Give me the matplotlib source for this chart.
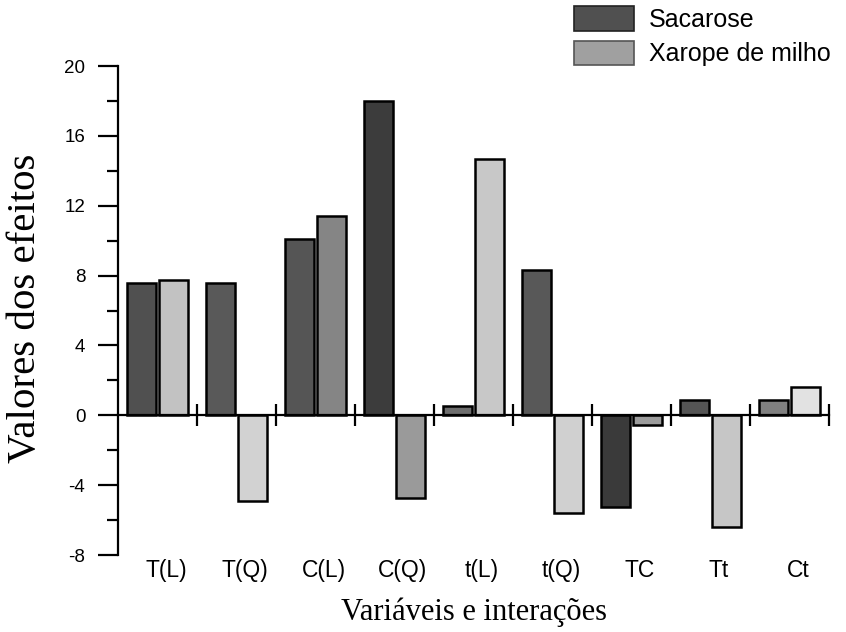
import matplotlib
matplotlib.use('Agg')
import matplotlib.pyplot as plt
import matplotlib.transforms as mtransforms
from matplotlib.patches import Patch
import numpy as np

plt.rcParams['axes.unicode_minus'] = False

# Dados
categorias = ['T(L)', 'T(Q)', 'C(L)', 'C(Q)', 't(L)', 't(Q)', 'TC', 'Tt', 'Ct']
sacarose = [7.6, 7.6, 10.1, 18.0, 0.55, 8.3, -5.25, 0.85, 0.85]
xarope = [7.75, -4.9, 11.4, -4.75, 14.7, -5.6, -0.55, -6.4, 1.6]
series = ['Sacarose', 'Xarope de milho']
yticks = [-8, -4, 0, 4, 8, 12, 16, 20]

# tons de cinza (figura escaneada, cada barra tem um tom)
cor_sac = ['#505050', '#595959', '#555555', '#3c3c3c', '#6e6e6e',
           '#585858', '#3a3a3a', '#555555', '#808080']
cor_xar = ['#c2c2c2', '#d2d2d2', '#858585', '#9a9a9a', '#c8c8c8',
           '#d0d0d0', '#9c9c9c', '#c6c6c6', '#e2e2e2']

sans = 'Liberation Sans'
serif = 'Liberation Serif'

fig = plt.figure(figsize=(8.46, 6.32), dpi=100)
ax = fig.add_axes([118 / 846, 1 - 555 / 632, (829 - 118) / 846, (555 - 66) / 632])

x = np.arange(len(categorias))
largura = 0.37
ax.bar(x - 0.2, sacarose, largura, color=cor_sac, edgecolor='black', linewidth=1.8, zorder=3)
ax.bar(x + 0.2, xarope, largura, color=cor_xar, edgecolor='black', linewidth=1.8, zorder=3)

ax.set_xlim(-0.5, len(categorias) - 0.5)
ax.set_ylim(-8, 20)

# eixos
for lado in ['top', 'right']:
    ax.spines[lado].set_visible(False)
ax.spines['bottom'].set_position(('data', 0))
ax.spines['bottom'].set_zorder(4)
for lado in ['left', 'bottom']:
    ax.spines[lado].set_linewidth(1.6)

ax.set_yticks(yticks)
ax.set_yticks(np.arange(-6, 20, 4), minor=True)
ax.tick_params(axis='y', which='major', direction='out', length=14.5, width=1.6,
               pad=9, labelsize=13.5)
ax.tick_params(axis='y', which='minor', direction='out', length=8, width=1.6)
for lbl in ax.get_yticklabels():
    lbl.set_fontfamily(sans)

ax.set_xticks(x + 0.5)
ax.set_xticklabels([])
ax.tick_params(axis='x', which='major', direction='inout', length=16, width=1.6)

# rótulos das categorias embaixo do gráfico
trans = mtransforms.blended_transform_factory(ax.transData, ax.transAxes)
for xi, nome in zip(x, categorias):
    ax.annotate(nome, (xi, 0), xycoords=trans, xytext=(6, -3), textcoords='offset points',
                ha='center', va='top', fontsize=16.5, family=sans)

fig.text(26 / 846, 1 - 308 / 632, 'Valores dos efeitos', rotation=90, ha='center', va='center',
         fontsize=29.5, family=serif)
fig.text(474 / 846, 1 - 612 / 632, 'Variáveis e interações', ha='center', va='center',
         fontsize=22, family=serif)

handles = [Patch(facecolor='#505050', edgecolor='#222222', linewidth=1.2),
           Patch(facecolor='#a0a0a0', edgecolor='#555555', linewidth=1.2)]
fig.legend(handles, series, loc='upper left', bbox_to_anchor=(574 / 846, 1 - 6 / 632),
           frameon=False, prop={'family': sans, 'size': 18}, handlelength=2.4,
           handleheight=1.15, handletextpad=0.6, labelspacing=0.35, borderpad=0,
           borderaxespad=0)

fig.savefig('out.png', dpi=100)
